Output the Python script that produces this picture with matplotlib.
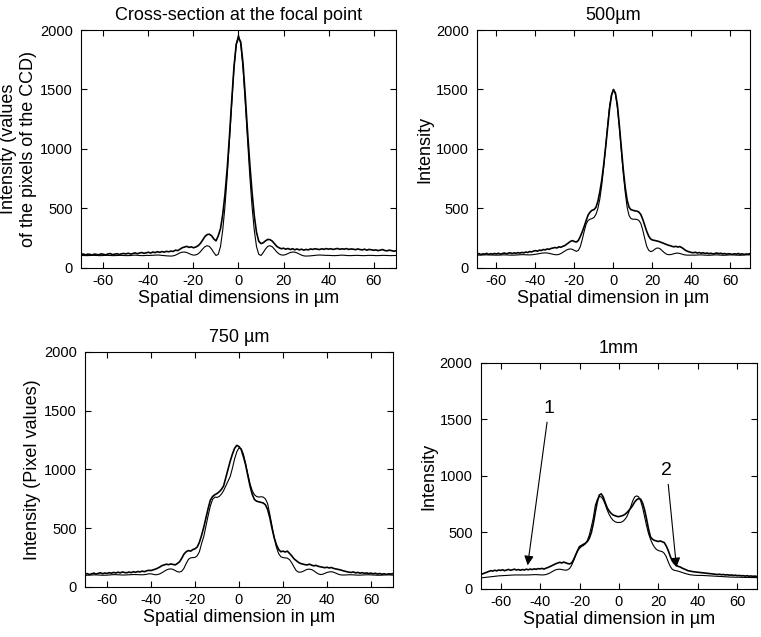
import numpy as np
import matplotlib
matplotlib.use('Agg')
import matplotlib.pyplot as plt

plt.rcParams['font.family'] = ['Liberation Sans', 'DejaVu Sans']
plt.rcParams['axes.unicode_minus'] = False

# positions in micrometres, one sample per micrometre
x_um = np.arange(-70, 71)

# Cross-section at the focal point
meas_focal = [112, 118, 110, 116, 114, 109, 117, 113, 111, 119,
              115, 110, 118, 121, 112, 116, 120, 113, 119, 122,
              118, 124, 117, 121, 127, 120, 125, 130, 123, 128,
              132, 126, 134, 129, 137, 131, 138, 133, 140, 136,
              142, 139, 150, 146, 158, 170, 176, 182, 173, 178,
              170, 176, 186, 205, 232, 262, 280, 284, 272, 245,
              228, 270, 330, 450, 620, 840, 1110, 1410, 1690, 1880,
              1935,
              1900, 1720, 1450, 1150, 880, 640, 440, 300, 225, 205,
              212, 228, 240, 238, 226, 204, 182, 170, 162, 166,
              158, 164, 155, 162, 153, 160, 152, 158, 150, 156,
              152, 160, 156, 162, 158, 155, 161, 157, 163, 158,
              162, 156, 160, 164, 157, 161, 158, 163, 156, 160,
              158, 154, 160, 155, 152, 158, 150, 156, 153, 149,
              152, 146, 150, 155, 147, 144, 150, 146, 141, 145]
sim_focal = [105, 105, 104, 104, 105, 106, 106, 105, 104, 104,
             105, 106, 106, 105, 104, 104, 105, 106, 106, 105,
             104, 104, 105, 107, 108, 107, 105, 104, 104, 106,
             106, 106, 107, 108, 109, 108, 106, 104, 102, 101,
             100, 102, 108, 118, 127, 133, 134, 130, 122, 113,
             108, 110, 118, 135, 158, 178, 187, 182, 160, 130,
             105, 115, 180, 320, 520, 780, 1080, 1390, 1680, 1880,
             1960,
             1880, 1680, 1390, 1080, 780, 520, 320, 180, 115, 105,
             130, 160, 182, 187, 178, 158, 135, 118, 110, 108,
             113, 122, 130, 134, 133, 127, 118, 108, 102, 100,
             101, 102, 104, 106, 108, 109, 108, 107, 106, 106,
             105, 104, 104, 105, 107, 108, 107, 105, 104, 104,
             105, 106, 106, 105, 104, 104, 105, 106, 106, 105,
             104, 104, 105, 106, 106, 105, 104, 104, 105, 105]

# 500 um
meas_500 = [115, 121, 112, 119, 116, 123, 114, 120, 117, 122,
            118, 124, 116, 121, 126, 119, 124, 128, 121, 127,
            123, 129, 125, 131, 127, 134, 130, 138, 135, 142,
            146, 141, 150, 147, 155, 152, 160, 157, 164, 168,
            172, 168, 178, 174, 182, 188, 200, 212, 224, 230,
            222, 218, 232, 265, 305, 350, 400, 445, 470, 485,
            490, 510, 560, 640, 740, 870, 1020, 1180, 1340, 1450,
            1500,
            1470, 1370, 1200, 1010, 830, 680, 570, 510, 490, 485,
            480, 478, 470, 450, 410, 360, 310, 270, 245, 235,
            232, 228, 224, 218, 212, 205, 198, 192, 188, 182,
            178, 182, 176, 180, 172, 160, 148, 140, 135, 130,
            128, 132, 126, 130, 124, 128, 122, 126, 120, 124,
            118, 122, 126, 120, 124, 118, 122, 116, 120, 118,
            114, 120, 116, 122, 115, 119, 113, 118, 116, 120]
sim_500 = [108, 108, 109, 109, 110, 110, 110, 109, 109, 108,
           108, 108, 109, 110, 110, 110, 109, 108, 108, 108,
           109, 110, 111, 112, 112, 111, 110, 110, 111, 113,
           115, 118, 121, 124, 126, 127, 126, 123, 119, 115,
           112, 111, 114, 121, 131, 142, 152, 158, 160, 156,
           147, 140, 148, 180, 240, 310, 370, 400, 410, 415,
           425, 450, 500, 580, 700, 850, 1020, 1200, 1360, 1460,
           1500,
           1460, 1350, 1180, 990, 800, 640, 510, 440, 415, 410,
           410, 408, 400, 375, 320, 250, 185, 150, 138, 142,
           155, 166, 168, 160, 145, 130, 118, 112, 112, 115,
           120, 124, 125, 122, 117, 112, 109, 108, 108, 108,
           108, 108, 109, 110, 110, 109, 108, 107, 107, 108,
           109, 110, 110, 109, 108, 107, 107, 108, 109, 110,
           110, 109, 108, 107, 107, 108, 109, 110, 110, 110]

# 750 um
meas_750 = [108, 114, 106, 112, 118, 110, 116, 121, 113, 119,
            115, 122, 117, 124, 119, 126, 120, 128, 123, 121,
            127, 122, 130, 125, 132, 128, 135, 130, 138, 142,
            140, 146, 152, 160, 170, 182, 188, 194, 190, 196,
            192, 188, 200, 215, 245, 280, 300, 310, 305, 318,
            325, 340, 380, 440, 510, 590, 670, 740, 770, 785,
            795, 810, 830, 860, 930, 1000, 1070, 1130, 1180, 1205,
            1195,
            1170, 1110, 1040, 950, 860, 790, 745, 730, 725, 720,
            715, 700, 660, 590, 500, 420, 360, 320, 300, 305,
            298, 305, 285, 265, 240, 225, 210, 200, 195, 190,
            188, 194, 186, 180, 184, 176, 172, 168, 164, 168,
            162, 166, 158, 154, 150, 146, 140, 135, 130, 126,
            124, 128, 120, 124, 118, 122, 116, 120, 114, 118,
            112, 117, 110, 115, 108, 113, 107, 112, 110, 114]
sim_750 = [100, 100, 101, 102, 103, 103, 102, 101, 100, 100,
           101, 102, 104, 105, 105, 104, 103, 102, 102, 103,
           104, 105, 106, 106, 105, 104, 104, 105, 108, 112,
           112, 108, 104, 106, 112, 122, 134, 145, 152, 154,
           150, 140, 130, 127, 135, 160, 200, 235, 248, 250,
           252, 265, 300, 370, 430, 520, 610, 690, 745, 765,
           762, 770, 790, 820, 860, 900, 940, 1010, 1090, 1150,
           1185,
           1175, 1130, 1050, 960, 880, 820, 785, 770, 765, 768,
           765, 750, 710, 620, 520, 420, 340, 285, 258, 250,
           248, 245, 232, 205, 170, 140, 127, 126, 132, 142,
           150, 152, 148, 138, 124, 112, 106, 108, 116, 124,
           128, 130, 126, 118, 110, 104, 102, 102, 103, 104,
           104, 103, 102, 101, 101, 102, 103, 104, 104, 103,
           102, 101, 100, 100, 101, 102, 103, 103, 102, 101]

# 1 mm
meas_1mm = [128, 135, 142, 150, 156, 162, 158, 166, 160, 168,
            164, 170, 162, 168, 173, 165, 170, 175, 168, 172,
            166, 172, 168, 175, 170, 176, 172, 178, 174, 180,
            178, 182, 176, 184, 190, 198, 205, 215, 224, 230,
            236, 230, 238, 232, 225, 222, 230, 260, 300, 340,
            375, 385, 395, 405, 420, 450, 500, 580, 680, 770,
            830, 842, 815, 765, 720, 690, 670, 655, 648, 642,
            640,
            645, 650, 660, 675, 695, 715, 740, 770, 790, 800,
            795, 760, 700, 620, 530, 460, 440, 430, 425, 420,
            425, 418, 410, 380, 340, 290, 250, 225, 210, 200,
            195, 185, 178, 170, 162, 158, 155, 152, 150, 148,
            146, 144, 142, 140, 138, 136, 134, 132, 130, 128,
            130, 126, 128, 124, 126, 122, 124, 120, 122, 118,
            120, 116, 118, 114, 117, 113, 115, 112, 114, 110]
sim_1mm = [98, 100, 102, 104, 106, 108, 110, 112, 114, 116,
           117, 118, 119, 120, 121, 122, 123, 124, 124, 124,
           124, 124, 124, 124, 124, 125, 126, 127, 127, 126,
           125, 124, 125, 128, 134, 142, 152, 162, 170, 174,
           175, 172, 168, 166, 170, 182, 210, 250, 295, 335,
           360, 375, 385, 400, 430, 480, 550, 630, 740, 790,
           818, 815, 790, 750, 700, 660, 630, 608, 595, 589,
           588,
           590, 598, 615, 640, 680, 730, 780, 815, 824, 815,
           780, 720, 640, 560, 490, 440, 400, 370, 350, 340,
           335, 330, 315, 285, 240, 200, 175, 165, 162, 158,
           152, 146, 140, 135, 130, 126, 124, 122, 121, 120,
           120, 120, 119, 118, 117, 116, 115, 114, 113, 112,
           111, 110, 109, 108, 107, 106, 105, 105, 104, 104,
           104, 103, 103, 102, 102, 102, 101, 101, 101, 100]

panels = [
    # title, ylabel, xlabel, measured, simulated, [left, bottom, width, height]
    ('Cross-section at the focal point', 'Intensity (values\nof the pixels of the CCD)',
     'Spatial dimensions in µm', meas_focal, sim_focal, [0.1064, 0.5793, 0.414, 0.3736]),
    ('500µm', 'Intensity', 'Spatial dimension in µm', meas_500, sim_500,
     [0.6268, 0.5793, 0.3587, 0.3736]),
    ('750 µm', 'Intensity (Pixel values)', 'Spatial dimension in µm', meas_750, sim_750,
     [0.1117, 0.0785, 0.4047, 0.369]),
    ('1mm', 'Intensity', 'Spatial dimension in µm', meas_1mm, sim_1mm,
     [0.632, 0.0754, 0.3627, 0.3548]),
]

fig = plt.figure(figsize=(7.61, 6.37), dpi=100)

axes = []
for title, ylab, xlab, meas, sim, pos in panels:
    ax = fig.add_axes(pos)
    ax.plot(x_um, sim, color='black', lw=0.8)
    ax.plot(x_um, meas, color='black', lw=1.2)
    ax.set_xlim(-70, 70)
    ax.set_ylim(0, 2000)
    ax.set_xticks([-60, -40, -20, 0, 20, 40, 60])
    ax.set_yticks([0, 500, 1000, 1500, 2000])
    ax.tick_params(direction='in', top=True, right=True, length=4, width=0.8,
                   labelsize=10.5)
    ax.tick_params(axis='x', pad=4)
    ax.tick_params(axis='y', pad=6)
    for lab in ax.get_xticklabels() + ax.get_yticklabels():
        lab.set_family(['Liberation Sans Narrow', 'Liberation Sans'])
    for sp in ax.spines.values():
        sp.set_linewidth(0.8)
    ax.set_title(title, fontsize=13, pad=7)
    ax.set_xlabel(xlab, fontsize=13, labelpad=2)
    ax.set_ylabel(ylab, fontsize=13, labelpad=2, linespacing=1.25)
    axes.append(ax)

# arrows in the 1 mm panel
ax4 = axes[3]
arrow = dict(arrowstyle='-|>', color='black', lw=0.8, mutation_scale=14)
ax4.annotate('1', xy=(-46.5, 185), xytext=(-35.5, 1600), fontsize=14,
             ha='center', va='center', arrowprops=arrow)
ax4.annotate('2', xy=(29.3, 168), xytext=(24.3, 1050), fontsize=14,
             ha='center', va='center', arrowprops=arrow)

fig.savefig('out.png', dpi=100)
